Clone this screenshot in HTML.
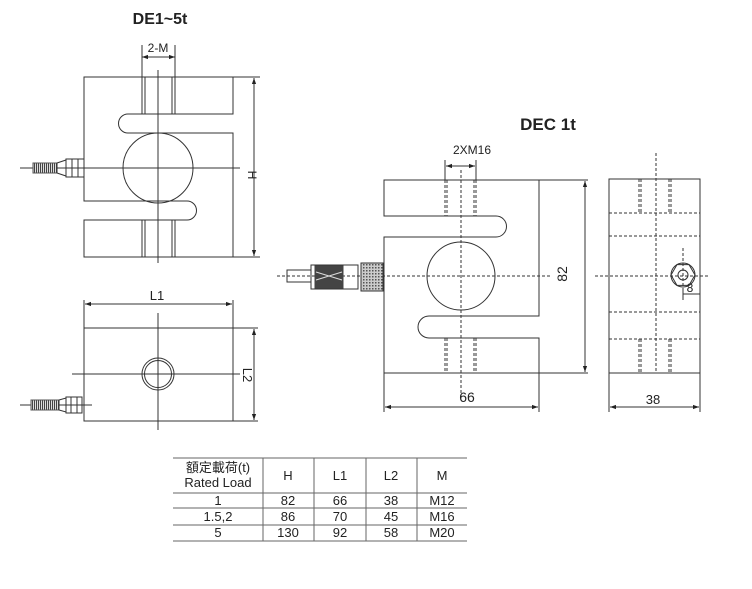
<!DOCTYPE html>
<html><head><meta charset="utf-8"><style>
html,body{margin:0;padding:0;background:#fff;}
svg{display:block;}
text{font-family:"Liberation Sans","Noto Sans CJK SC",sans-serif;fill:#222;}
</style></head><body>
<svg width="752" height="589" viewBox="0 0 752 589" xmlns="http://www.w3.org/2000/svg">
<defs>
<marker id="a" viewBox="0 0 10 10" refX="10" refY="5" markerWidth="8" markerHeight="6" orient="auto-start-reverse" markerUnits="userSpaceOnUse"><path d="M0,1.5 L10,5 L0,8.5 Z" fill="#222"/></marker>
<pattern id="kn" width="3" height="3" patternUnits="userSpaceOnUse"><rect width="3" height="3" fill="#ccc"/><rect width="1.5" height="1.5" fill="#555"/></pattern>
<pattern id="th" width="2" height="4" patternUnits="userSpaceOnUse"><rect width="2" height="4" fill="#ddd"/><rect width="1" height="4" fill="#444"/></pattern>
</defs>
<g fill="none" stroke="#333" stroke-width="1">
<!-- DE1~5t front -->
<path d="M84,77 H233 V114 H128 A9.5,9.5 0 0 0 128,133 H233 V257 H84 V220 H187 A9.5,9.5 0 0 0 187,201 H84 Z"/>
<circle cx="158" cy="168" r="35"/>
<line x1="158" y1="70" x2="158" y2="263"/>
<line x1="20" y1="168" x2="240" y2="168"/>
<path d="M142,77V114M145,77V114M172,77V114M175,77V114M142,220V257M145,220V257M172,220V257M175,220V257"/>
<path d="M142,45V77M175,45V77"/>
<line x1="142" y1="57" x2="175" y2="57" marker-start="url(#a)" marker-end="url(#a)"/>
<path d="M233,77H260M233,257H260"/>
<line x1="254" y1="78" x2="254" y2="256" marker-start="url(#a)" marker-end="url(#a)"/>
<rect x="33" y="163" width="24" height="10" fill="url(#th)" stroke="#555"/>
<path d="M57,163 L66,160 V176 L57,173Z M66,159 H84 V177 H66 Z M72,159V177M78,159V177"/>
<!-- top view -->
<rect x="84" y="328" width="149" height="93"/>
<path d="M84,300V328M233,300V328"/>
<line x1="85" y1="304" x2="232" y2="304" marker-start="url(#a)" marker-end="url(#a)"/>
<path d="M233,328H258M233,421H258"/>
<line x1="254" y1="329" x2="254" y2="420" marker-start="url(#a)" marker-end="url(#a)"/>
<circle cx="158" cy="374" r="16"/><circle cx="158" cy="374" r="13.5"/>
<line x1="158" y1="313" x2="158" y2="430"/>
<line x1="72" y1="374" x2="240" y2="374"/>
<line x1="20" y1="405" x2="92" y2="405"/>
<rect x="31" y="400" width="28" height="10" fill="url(#th)" stroke="#555"/>
<path d="M59,400 L66,398 V412 L59,410Z M66,397 H82 V413 H66 Z M71,397V413M77,397V413"/>
<!-- DEC front -->
<path d="M384,180 H539 V316 H429 A11,11 0 0 0 429,338 H539 V373 H384 V237 H496 A10.5,10.5 0 0 0 496,216 H384 Z"/>
<circle cx="461" cy="276" r="34"/>
<g stroke-dasharray="3,2">
<line x1="461" y1="170" x2="461" y2="397"/>
<line x1="277" y1="276" x2="552" y2="276"/>
<path d="M445,180V216M447,180V216M474,180V216M476,180V216M445,338V373M447,338V373M474,338V373M476,338V373"/>
</g>
<path d="M445,160V180M476,160V180"/>
<line x1="446" y1="166" x2="475" y2="166" marker-start="url(#a)" marker-end="url(#a)"/>
<path d="M539,180H588M539,373H588"/>
<line x1="585" y1="181" x2="585" y2="372" marker-start="url(#a)" marker-end="url(#a)"/>
<path d="M384,373V412M539,373V412"/>
<line x1="385" y1="407" x2="538" y2="407" marker-start="url(#a)" marker-end="url(#a)"/>
<rect x="287" y="270" width="24" height="12"/>
<rect x="311" y="265" width="47" height="24"/>
<rect x="315" y="266" width="28" height="22" fill="#444" stroke="#444"/>
<path d="M316,272 L342,280 M316,280 L342,272" stroke="#ddd"/>
<rect x="361" y="263" width="22" height="28" fill="url(#kn)"/>
<!-- side view -->
<rect x="609" y="179" width="91" height="194"/>
<g stroke-dasharray="3,2">
<path d="M609,213H700M609,236H700M609,312H700M609,339H700"/>
<line x1="656" y1="153" x2="656" y2="373"/>
<path d="M639,179V212M641,179V212M669,179V212M671,179V212M639,339V373M641,339V373M669,339V373M671,339V373"/>
<line x1="595" y1="276" x2="708" y2="276"/>
<line x1="683" y1="248" x2="683" y2="300"/>
</g>
<polygon points="695,275 689,285.4 677,285.4 671,275 677,264.6 689,264.6"/>
<circle cx="683" cy="275" r="12"/><circle cx="683" cy="275" r="5"/>
<path d="M683,289V300M700,285V300M683,294H700"/>
<path d="M609,373V412M700,373V412"/>
<line x1="610" y1="407" x2="699" y2="407" marker-start="url(#a)" marker-end="url(#a)"/>
<!-- table -->
<g stroke="#666">
<path d="M173,458H467M173,493H467M173,508H467M173,525H467M173,541H467"/>
<path d="M263,458V541M314,458V541M366,458V541M417,458V541"/>
</g>
</g>
<text x="160" y="24" font-size="16" font-weight="bold" text-anchor="middle">DE1~5t</text>
<text x="158" y="52" font-size="12" text-anchor="middle">2-M</text>
<text transform="translate(248,175) rotate(90)" font-size="12" text-anchor="middle">H</text>
<text x="157" y="300" font-size="13" text-anchor="middle">L1</text>
<text transform="translate(243,375) rotate(90)" font-size="13" text-anchor="middle">L2</text>
<text x="548" y="130" font-size="17" font-weight="bold" text-anchor="middle">DEC 1t</text>
<text x="472" y="154" font-size="12" text-anchor="middle">2XM16</text>
<text transform="translate(567,274) rotate(-90)" font-size="14" text-anchor="middle">82</text>
<text x="467" y="402" font-size="14" text-anchor="middle">66</text>
<text x="653" y="404" font-size="13" text-anchor="middle">38</text>
<text x="690" y="292" font-size="12" text-anchor="middle">8</text>
<g font-size="13" text-anchor="middle">
<text x="218" y="472">額定載荷(t)</text>
<text x="218" y="487">Rated Load</text>
<text x="288" y="480">H</text><text x="340" y="480">L1</text><text x="391" y="480">L2</text><text x="442" y="480">M</text>
<text x="218" y="505">1</text><text x="288" y="505">82</text><text x="340" y="505">66</text><text x="391" y="505">38</text><text x="442" y="505">M12</text>
<text x="218" y="521">1.5,2</text><text x="288" y="521">86</text><text x="340" y="521">70</text><text x="391" y="521">45</text><text x="442" y="521">M16</text>
<text x="218" y="537">5</text><text x="288" y="537">130</text><text x="340" y="537">92</text><text x="391" y="537">58</text><text x="442" y="537">M20</text>
</g>
</svg>
</body></html>
